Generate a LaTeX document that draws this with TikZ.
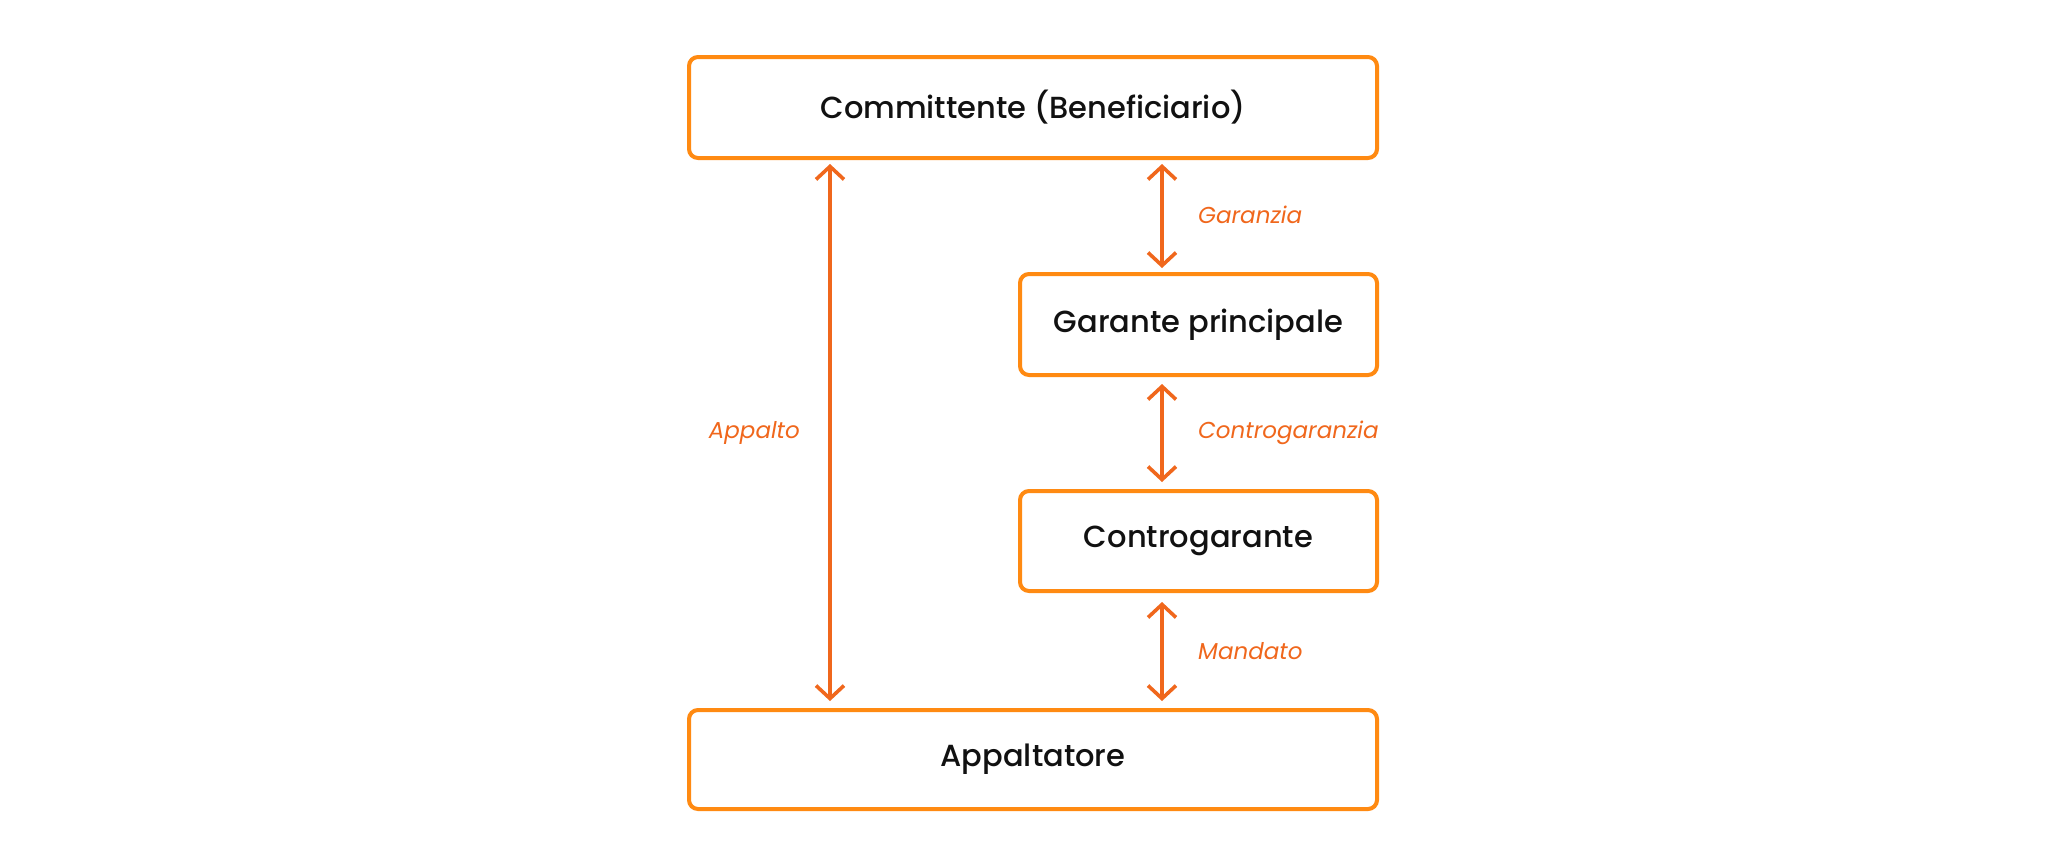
\documentclass[tikz,border=0pt]{standalone}
\usepackage{fontspec}
\setmainfont{Poppins}
\newfontfamily\popmed{Poppins Medium}
\usetikzlibrary{arrows.meta}
\definecolor{boxorange}{HTML}{FF8A12}
\definecolor{arrorange}{HTML}{F0671C}
\definecolor{txtdark}{HTML}{111111}
\tikzset{
  boxnode/.style={draw=boxorange, line width=4pt, rounded corners=9pt, fill=white,
    text=txtdark, font=\popmed\fontsize{30.5}{34}\selectfont, inner sep=0pt},
  conn/.style={draw=arrorange, line width=3.6pt,
    {Straight Barb[length=13pt,width=28pt,line width=3.6pt]}-{Straight Barb[length=13pt,width=28pt,line width=3.6pt]}},
  lbl/.style={text=arrorange, font=\fontsize{23}{28}\itshape\selectfont, inner sep=0pt}
}
\begin{document}
\begin{tikzpicture}[x=1pt,y=-1pt]
\useasboundingbox (0,0) rectangle (2069,860);
\fill[white] (0,0) rectangle (2069,860);
% boxes
\node[boxnode, minimum width=688pt, minimum height=101pt] (comm) at (1033,107.5) {Committente (Beneficiario)};
\node[boxnode, minimum width=357pt, minimum height=101pt] (gar) at (1198.5,324.5) {Garante principale};
\node[boxnode, minimum width=357pt, minimum height=100pt] (cgar) at (1198.5,541) {Controgarante};
\node[boxnode, minimum width=688pt, minimum height=99pt] (app) at (1033,759.5) {Appaltatore};
% connector anchors
\coordinate (a1) at (830,164);
\coordinate (a2) at (830,701);
\coordinate (b1) at (1162,164);
\coordinate (b2) at (1162,268);
\coordinate (c1) at (1162,384);
\coordinate (c2) at (1162,482);
\coordinate (d1) at (1162,602);
\coordinate (d2) at (1162,701);
\draw[conn] (a1) -- (a2);
\draw[conn] (b1) -- (b2);
\draw[conn] (c1) -- (c2);
\draw[conn] (d1) -- (d2);
% labels
\node[lbl, anchor=west] (lg) at (1198,215) {Garanzia};
\node[lbl, anchor=west] (lc) at (1198,433) {Controgaranzia};
\node[lbl, anchor=west] (lm) at (1198,651) {Mandato};
\node[lbl, anchor=east] (la) at (800,433) {Appalto};
\end{tikzpicture}
\end{document}
